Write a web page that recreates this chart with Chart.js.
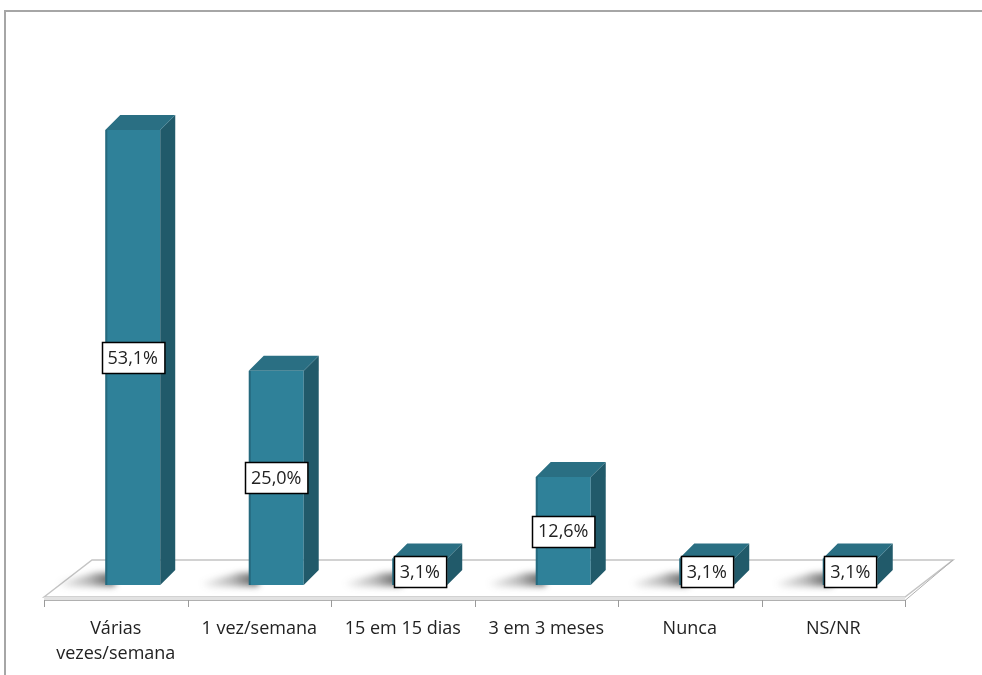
<!DOCTYPE html>
<html>
<head>
<meta charset="utf-8">
<script src="https://cdn.jsdelivr.net/npm/chart.js@4.4.1/dist/chart.umd.min.js"></script>
<style>
  html, body { margin: 0; padding: 0; background: #fff; }
  #wrap { position: relative; width: 982px; height: 675px; }
  #frame { position: absolute; left: 4px; top: 10px; right: 0; bottom: 0;
           border-top: 2px solid #a6a6a6; border-left: 2px solid #a6a6a6; }
  canvas { position: absolute; left: 0; top: 0; }
</style>
</head>
<body>
<div id="wrap">
  <div id="frame"></div>
  <canvas id="chart" width="982" height="675"></canvas>
</div>
<script>
var categories = [['Várias', 'vezes/semana'], '1 vez/semana', '15 em 15 dias', '3 em 3 meses', 'Nunca', 'NS/NR'];
var values = [53.1, 25.0, 3.1, 12.6, 3.1, 3.1];
var valueLabels = ['53,1%', '25,0%', '3,1%', '12,6%', '3,1%', '3,1%'];

// 3D look
var depthX = 15, depthY = -15;
var floorShift = 17;           // bars sit behind the front edge of the floor
var floorBackX = 48, floorBackY = -37, floorFront = 12;
var textFont = '"Open Sans", "Liberation Sans", sans-serif';

var bar3d = {
    id: 'bar3d',
    beforeDatasetsDraw: function (chart) {
        var ctx = chart.ctx;
        var xs = chart.scales.x;
        var base = chart.scales.y.getPixelForValue(0);
        var fl = xs.left - floorShift, fr = xs.right - floorShift;
        var fy = base + floorFront;
        ctx.save();
        // floor top
        ctx.beginPath();
        ctx.moveTo(fl, fy);
        ctx.lineTo(fl + floorBackX, fy + floorBackY);
        ctx.lineTo(fr + floorBackX, fy + floorBackY);
        ctx.lineTo(fr, fy);
        ctx.closePath();
        ctx.fillStyle = '#ffffff';
        ctx.fill();
        ctx.strokeStyle = '#c4c4c4';
        ctx.lineWidth = 1.5;
        ctx.stroke();
        // floor front edge
        ctx.fillStyle = '#e2e2e2';
        ctx.fillRect(fl, fy, fr - fl, 3);
        ctx.strokeStyle = '#b0b0b0';
        ctx.lineWidth = 1;
        ctx.beginPath();
        ctx.moveTo(fl, fy + 3.5);
        ctx.lineTo(fr, fy + 3.5);
        ctx.moveTo(fr, fy + 3.5);
        ctx.lineTo(fr + floorBackX, fy + floorBackY);
        ctx.stroke();
        // tick marks
        var step = (fr - fl) / categories.length;
        ctx.strokeStyle = '#9a9a9a';
        ctx.beginPath();
        for (var i = 0; i <= categories.length; i++) {
            var tx = Math.round(fl + i * step) + 0.5;
            ctx.moveTo(tx, fy + 3);
            ctx.lineTo(tx, fy + 10);
        }
        ctx.stroke();
        // shadows of the bars on the floor
        var meta = chart.getDatasetMeta(0);
        ctx.filter = 'blur(3px)';
        meta.data.forEach(function (bar) {
            var p = bar.getProps(['x', 'width', 'base'], true);
            var l = p.x - p.width / 2;
            var g = ctx.createLinearGradient(l - 50, 0, l + 5, 0);
            g.addColorStop(0, 'rgba(60,60,60,0)');
            g.addColorStop(0.6, 'rgba(60,60,60,0.35)');
            g.addColorStop(1, 'rgba(40,40,40,0.7)');
            ctx.beginPath();
            ctx.moveTo(l - 50, p.base - 2);
            ctx.lineTo(l - 10, p.base - 12);
            ctx.lineTo(l + 10, p.base - 12);
            ctx.lineTo(l + 10, p.base + 1);
            ctx.lineTo(l - 40, p.base + 2);
            ctx.closePath();
            ctx.fillStyle = g;
            ctx.fill();
        });
        ctx.filter = 'none';
        ctx.restore();
    },
    afterDatasetsDraw: function (chart) {
        var ctx = chart.ctx;
        var meta = chart.getDatasetMeta(0);
        ctx.save();
        meta.data.forEach(function (bar, i) {
            var p = bar.getProps(['x', 'y', 'width', 'base'], true);
            var l = p.x - p.width / 2, r = p.x + p.width / 2;
            // side face
            ctx.beginPath();
            ctx.moveTo(r, p.y);
            ctx.lineTo(r + depthX, p.y + depthY);
            ctx.lineTo(r + depthX, p.base + depthY);
            ctx.lineTo(r, p.base);
            ctx.closePath();
            ctx.fillStyle = '#215a6a';
            ctx.fill();
            // top face
            ctx.beginPath();
            ctx.moveTo(l, p.y);
            ctx.lineTo(l + depthX, p.y + depthY);
            ctx.lineTo(r + depthX, p.y + depthY);
            ctx.lineTo(r, p.y);
            ctx.closePath();
            ctx.fillStyle = '#2a6f83';
            ctx.fill();
            // left edge shading of the front face
            ctx.fillStyle = 'rgba(20,60,75,0.35)';
            ctx.fillRect(l, p.y, 2, p.base - p.y);
        });
        // value boxes
        ctx.font = '18px ' + textFont;
        ctx.textAlign = 'center';
        ctx.textBaseline = 'middle';
        meta.data.forEach(function (bar, i) {
            var p = bar.getProps(['x', 'y', 'base'], true);
            var cy = (p.y + p.base) / 2;
            var txt = valueLabels[i];
            var w = ctx.measureText(txt).width + 12, h = 31;
            var bx = Math.round(p.x - w / 2) + 0.5, by = Math.round(cy - h / 2) + 0.5;
            ctx.fillStyle = '#ffffff';
            ctx.fillRect(bx, by, w, h);
            ctx.strokeStyle = '#000000';
            ctx.lineWidth = 1.5;
            ctx.strokeRect(bx, by, w, h);
            ctx.fillStyle = '#222222';
            ctx.fillText(txt, p.x, cy + 1);
        });
        ctx.restore();
    }
};

function frontFill(context) {
    var chart = context.chart;
    var bar = context.element;
    if (!bar || !chart.chartArea) return '#2f8199';
    var p = bar.getProps(['x', 'width'], true);
    if (!isFinite(p.x) || !isFinite(p.width)) return '#2f8199';
    var g = chart.ctx.createLinearGradient(p.x - p.width / 2, 0, p.x + p.width / 2, 0);
    g.addColorStop(0, '#2a7891');
    g.addColorStop(0.6, '#3288a1');
    g.addColorStop(0.9, '#3590aa');
    g.addColorStop(1, '#2b7891');
    return g;
}

new Chart(document.getElementById('chart'), {
    type: 'bar',
    data: {
        labels: categories,
        datasets: [{
            data: values,
            backgroundColor: frontFill,
            borderWidth: 0,
            barPercentage: 0.383,
            categoryPercentage: 1
        }]
    },
    options: {
        responsive: false,
        animation: false,
        layout: { padding: { left: 61, right: 60, top: 28, bottom: 0 } },
        plugins: { legend: { display: false }, tooltip: { enabled: false } },
        scales: {
            x: {
                grid: { display: false, drawTicks: false },
                border: { display: false },
                ticks: {
                    padding: 31,
                    labelOffset: -floorShift,
                    maxRotation: 0,
                    autoSkip: false,
                    color: '#222222',
                    font: { family: textFont, size: 18, lineHeight: 1.42 }
                },
                afterFit: function (scale) { scale.height = 90; }
            },
            y: {
                display: false,
                min: 0,
                max: 65
            }
        }
    },
    plugins: [bar3d]
});
</script>
</body>
</html>
